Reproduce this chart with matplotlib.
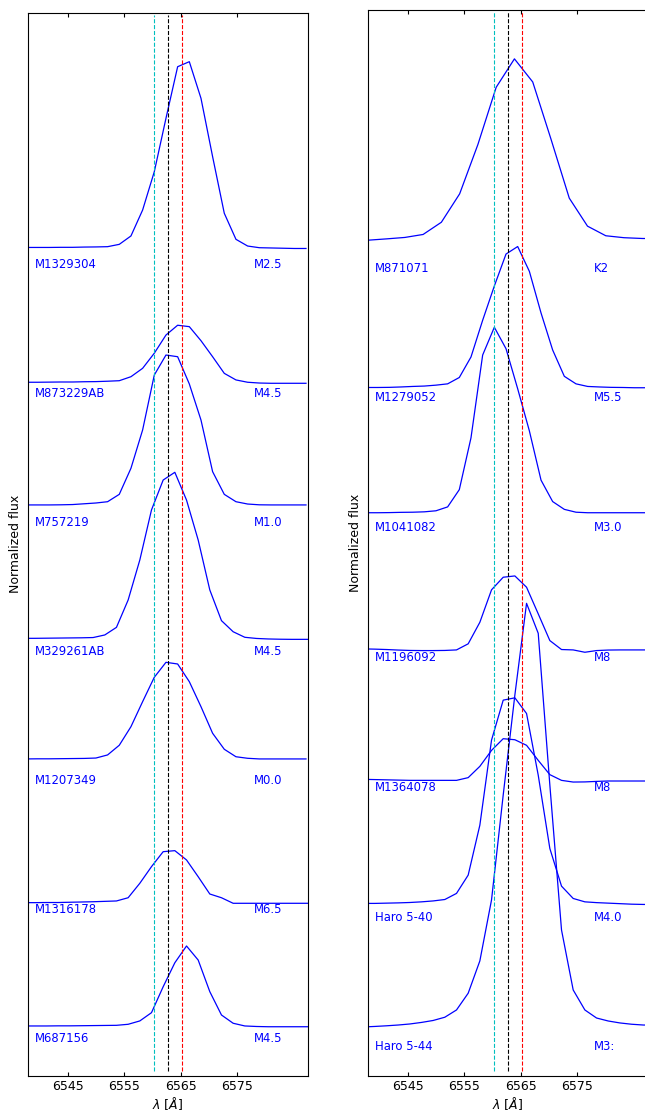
import numpy as np
import matplotlib.pyplot as plt

# wavelength grids (Angstrom) of the spectra
grid_a = [6537.46, 6539.54, 6541.62, 6543.70, 6545.78, 6547.86, 6549.93, 6552.01,
          6554.09, 6556.17, 6558.25, 6560.33, 6562.41, 6564.49, 6566.57, 6568.65,
          6570.72, 6572.80, 6574.88, 6576.96, 6579.04, 6581.12, 6583.20, 6585.28,
          6587.36]
grid_b = [6536.96, 6539.04, 6541.12, 6543.20, 6545.28, 6547.36, 6549.43, 6551.51,
          6553.59, 6555.67, 6557.75, 6559.83, 6561.91, 6563.99, 6566.07, 6568.15,
          6570.22, 6572.30, 6574.38, 6576.46, 6578.54, 6580.62, 6582.70, 6584.78,
          6586.86, 6588.94]
grid_c = [6537.87, 6541.13, 6544.38, 6547.64, 6550.89, 6554.15, 6557.40, 6560.66,
          6563.91, 6567.17, 6570.42, 6573.68, 6576.93, 6580.19, 6583.44, 6586.70,
          6589.95]

# left panel
m1329304 = [0.136, 0.136, 0.136, 0.137, 0.137, 0.139, 0.140, 0.142, 0.160, 0.225,
            0.426, 0.723, 1.137, 1.537, 1.576, 1.292, 0.840, 0.401, 0.199, 0.147,
            0.134, 0.132, 0.130, 0.128, 0.128]
m873229ab = [0.091, 0.091, 0.092, 0.093, 0.093, 0.095, 0.096, 0.099, 0.103, 0.134,
             0.199, 0.316, 0.457, 0.533, 0.522, 0.413, 0.289, 0.160, 0.109, 0.091,
             0.085, 0.083, 0.083, 0.083, 0.083]
m757219 = [0.140, 0.140, 0.140, 0.141, 0.143, 0.149, 0.155, 0.165, 0.222, 0.424,
           0.721, 1.147, 1.302, 1.289, 1.078, 0.798, 0.398, 0.222, 0.165, 0.147,
           0.141, 0.140, 0.140, 0.140, 0.140]
m329261ab = [0.106, 0.106, 0.107, 0.108, 0.109, 0.110, 0.112, 0.132, 0.191, 0.403,
             0.713, 1.101, 1.333, 1.393, 1.178, 0.868, 0.481, 0.243, 0.157, 0.114,
             0.105, 0.101, 0.099, 0.098, 0.098, 0.098]
m1207349 = [0.171, 0.172, 0.172, 0.173, 0.174, 0.175, 0.178, 0.202, 0.277, 0.421,
            0.615, 0.804, 0.920, 0.907, 0.770, 0.576, 0.370, 0.246, 0.188, 0.176,
            0.171, 0.171, 0.171, 0.171, 0.171]
m1316178 = [0.057, 0.057, 0.058, 0.058, 0.060, 0.062, 0.064, 0.067, 0.070, 0.095,
            0.207, 0.336, 0.452, 0.460, 0.388, 0.258, 0.124, 0.095, 0.052, 0.052,
            0.052, 0.052, 0.052, 0.052, 0.052, 0.052]
m687156 = [0.101, 0.101, 0.101, 0.102, 0.102, 0.103, 0.104, 0.105, 0.106, 0.114,
           0.140, 0.204, 0.405, 0.591, 0.721, 0.612, 0.367, 0.186, 0.122, 0.101,
           0.097, 0.095, 0.095, 0.095, 0.095, 0.095]

# right panel
m871071 = [0.216, 0.226, 0.237, 0.260, 0.354, 0.573, 0.953, 1.394, 1.613, 1.435,
           0.995, 0.540, 0.324, 0.250, 0.235, 0.229, 0.228]
m1279052 = [0.081, 0.081, 0.082, 0.085, 0.089, 0.092, 0.099, 0.109, 0.158, 0.316,
            0.599, 0.863, 1.109, 1.167, 0.976, 0.655, 0.370, 0.167, 0.109, 0.089,
            0.085, 0.082, 0.081, 0.079, 0.079]
m1041082 = [0.116, 0.116, 0.117, 0.119, 0.120, 0.123, 0.131, 0.161, 0.294, 0.693,
            1.331, 1.545, 1.380, 1.071, 0.747, 0.367, 0.202, 0.142, 0.120, 0.116,
            0.116, 0.116, 0.116, 0.116, 0.116]
m1196092 = [0.067, 0.065, 0.062, 0.058, 0.055, 0.054, 0.054, 0.055, 0.059, 0.106,
            0.272, 0.522, 0.619, 0.629, 0.542, 0.337, 0.131, 0.062, 0.059, 0.041,
            0.054, 0.058, 0.059, 0.059, 0.059, 0.059]
m1364078 = [0.062, 0.060, 0.058, 0.056, 0.054, 0.054, 0.054, 0.054, 0.054, 0.075,
            0.162, 0.285, 0.375, 0.367, 0.324, 0.208, 0.098, 0.054, 0.041, 0.042,
            0.046, 0.049, 0.049, 0.049, 0.049, 0.049]
haro5_40 = [0.106, 0.106, 0.108, 0.110, 0.113, 0.118, 0.125, 0.136, 0.183, 0.324,
            0.709, 1.364, 1.672, 1.690, 1.569, 1.094, 0.529, 0.239, 0.144, 0.118,
            0.112, 0.108, 0.104, 0.100, 0.098, 0.098]
haro5_44 = [0.154, 0.158, 0.163, 0.169, 0.177, 0.189, 0.204, 0.229, 0.285, 0.414,
            0.663, 1.133, 1.941, 2.712, 3.418, 3.187, 2.018, 0.901, 0.439, 0.285,
            0.223, 0.200, 0.185, 0.175, 0.169, 0.168]

left_names = ["M1329304", "M873229AB", "M757219", "M329261AB", "M1207349", "M1316178", "M687156"]
left_types = ["M2.5", "M4.5", "M1.0", "M4.5", "M0.0", "M6.5", "M4.5"]
left_waves = [grid_a, grid_a, grid_a, grid_b, grid_a, grid_b, grid_b]
left_fluxes = [m1329304, m873229ab, m757219, m329261ab, m1207349, m1316178, m687156]

right_names = ["M871071", "M1279052", "M1041082", "M1196092", "M1364078", "Haro 5-40", "Haro 5-44"]
right_types = ["K2", "M5.5", "M3.0", "M8", "M8", "M4.0", "M3:"]
right_waves = [grid_c, grid_a, grid_a, grid_b, grid_b, grid_b, grid_b]
right_fluxes = [m871071, m1279052, m1041082, m1196092, m1364078, haro5_40, haro5_44]

offsets = [6, 5, 4, 3, 2, 1, 0]
lines = [(6560.3, 'c'), (6562.8, 'k'), (6565.2, 'r')]

fig = plt.figure(figsize=(6.45, 11.11), dpi=100)
ax1 = fig.add_axes([0.0429, 0.03195, 0.4350, 0.9563])
ax2 = fig.add_axes([0.5701, 0.03195, 0.4350, 0.9590])

panels = [(ax1, left_waves, left_fluxes, left_names, left_types, (-0.283, 7.953)),
          (ax2, right_waves, right_fluxes, right_names, right_types, (-0.220, 7.989))]

for ax, waves, fluxes, names, types, ylim in panels:
    for wl, fl, name, sp, off in zip(waves, fluxes, names, types, offsets):
        ax.plot(wl, np.array(fl) + off, color='b', lw=0.9)
        ax.text(6539.0, off, name, color='b', fontsize=8.4, va='center')
        ax.text(6578.0, off, sp, color='b', fontsize=8.4, va='center')
    for x, c in lines:
        ax.axvline(x, ymin=0.004, ymax=0.998, color=c, ls='--', lw=0.8)
    ax.set_xlim(6537.77, 6587.76)
    ax.set_ylim(*ylim)
    ax.set_xticks([6545, 6555, 6565, 6575])
    ax.set_yticks([])
    ax.tick_params(axis='x', direction='in', top=True, length=3, labelsize=9)
    ax.set_xlabel(r'$\lambda$ [$\AA$]', fontsize=9, labelpad=1)
    ax.set_ylabel('Normalized flux', fontsize=9)

fig.savefig('out.png', dpi=100)
